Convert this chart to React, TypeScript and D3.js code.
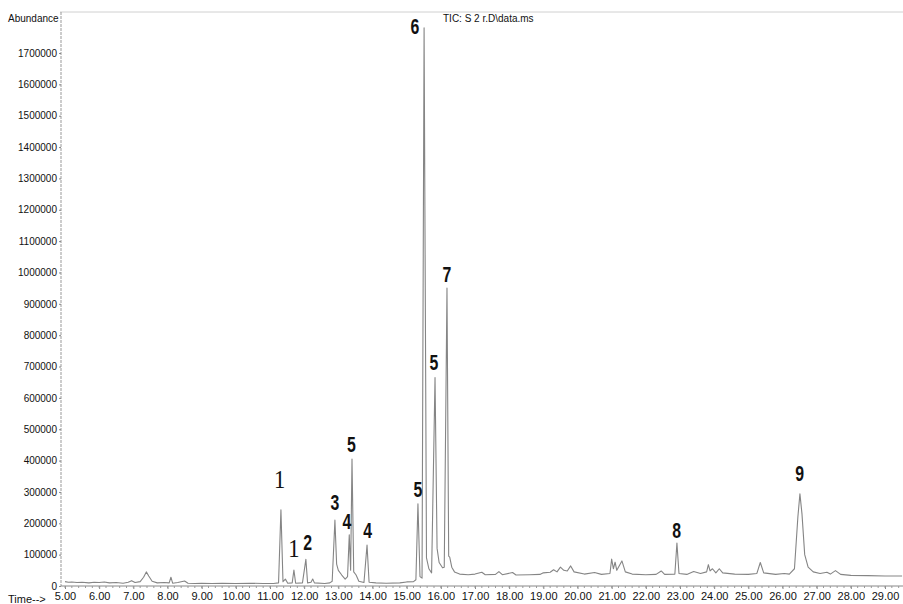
import React, { useRef, useEffect } from "react";
import * as d3 from "d3";

// chromatogram trace: [time (min), abundance]
const trace: [number, number][] = [
  [5.0, 14000], [5.1, 12000], [5.2, 13000], [5.35, 11000], [5.5, 12000], [5.7, 10000],
  [5.85, 12000], [6.0, 11000], [6.15, 13000], [6.3, 10000], [6.5, 11000], [6.7, 9000],
  [6.85, 12000], [6.95, 17000], [7.05, 11000], [7.2, 14000], [7.3, 28000], [7.38, 45000],
  [7.45, 32000], [7.55, 15000], [7.7, 10000], [7.9, 11000], [8.05, 10000], [8.1, 28000],
  [8.15, 9000], [8.3, 11000], [8.5, 16000], [8.6, 9000], [8.8, 8000], [9.0, 9000],
  [9.3, 8000], [9.6, 9000], [10.0, 8000], [10.4, 9000], [10.8, 8000], [11.1, 8000],
  [11.25, 10000], [11.32, 243000], [11.38, 14000], [11.45, 22000], [11.52, 9000],
  [11.65, 10000], [11.7, 51000], [11.75, 9000], [11.95, 10000], [12.05, 85000],
  [12.1, 10000], [12.2, 12000], [12.25, 22000], [12.3, 10000], [12.6, 8000], [12.75, 10000],
  [12.82, 15000], [12.9, 210000], [12.95, 70000], [13.0, 50000], [13.1, 35000],
  [13.2, 22000], [13.27, 30000], [13.32, 163000], [13.36, 50000], [13.4, 405000],
  [13.45, 45000], [13.52, 35000], [13.6, 15000], [13.75, 11000], [13.84, 131000],
  [13.9, 12000], [14.1, 10000], [14.4, 9000], [14.8, 10000], [15.0, 13000], [15.2, 14000],
  [15.27, 20000], [15.33, 262000], [15.39, 30000], [15.45, 25000], [15.51, 1780000],
  [15.58, 90000], [15.65, 55000], [15.73, 42000], [15.83, 665000], [15.89, 120000],
  [15.95, 75000], [16.05, 58000], [16.1, 60000], [16.18, 950000], [16.23, 95000],
  [16.26, 92000], [16.32, 60000], [16.4, 45000], [16.55, 38000], [16.8, 36000],
  [17.0, 38000], [17.2, 44000], [17.3, 36000], [17.6, 37000], [17.7, 46000], [17.8, 36000],
  [18.1, 43000], [18.2, 35000], [18.6, 36000], [18.9, 37000], [19.0, 42000], [19.2, 44000],
  [19.3, 52000], [19.4, 45000], [19.5, 60000], [19.6, 50000], [19.7, 48000], [19.8, 64000],
  [19.9, 45000], [20.2, 38000], [20.5, 43000], [20.7, 37000], [20.95, 40000], [21.0, 86000],
  [21.05, 55000], [21.1, 76000], [21.15, 50000], [21.3, 80000], [21.4, 45000],
  [21.6, 38000], [22.0, 36000], [22.3, 37000], [22.45, 48000], [22.55, 37000],
  [22.85, 38000], [22.91, 137000], [22.97, 40000], [23.2, 37000], [23.4, 46000],
  [23.6, 40000], [23.78, 45000], [23.83, 68000], [23.88, 48000], [23.95, 55000],
  [24.05, 42000], [24.15, 55000], [24.25, 42000], [24.6, 38000], [25.0, 37000],
  [25.25, 40000], [25.35, 75000], [25.45, 42000], [25.8, 37000], [26.05, 40000],
  [26.2, 38000], [26.35, 55000], [26.45, 220000], [26.51, 294000], [26.57, 230000],
  [26.65, 100000], [26.75, 60000], [26.9, 45000], [27.1, 40000], [27.3, 44000],
  [27.4, 38000], [27.55, 49000], [27.7, 37000], [28.0, 34000], [28.5, 33000],
  [29.0, 32000], [29.5, 32000],
];

// peak numbers drawn on the chart
const peakText = ["1", "1", "2", "3", "4", "5", "4", "5", "6", "5", "7", "8", "9"];
const peakTime = [11.28, 11.7, 12.1, 12.9, 13.25, 13.38, 13.86, 15.33, 15.24, 15.8, 16.18, 22.9, 26.5];
const peakLevel = [313000, 92500, 115000, 242000, 182000, 427000, 153000, 284000, 1761000, 689000, 970000, 153000, 335000];
const serifPeaks = [0, 1]; // the two "1" labels look like Times

const yTicks = d3.range(0, 1700001, 100000);
const xTicks = d3.range(5, 29.001, 1);
const xMinor = d3.range(5, 29.5, 0.2);

export default function App() {
  const xRef = useRef<SVGGElement>(null);
  const yRef = useRef<SVGGElement>(null);

  const width = 903;
  const height = 604;
  const x = d3.scaleLinear().domain([5, 29]).range([65, 885]);
  const y = d3.scaleLinear().domain([0, 1700000]).range([586, 53]);

  useEffect(() => {
    document.body.style.margin = "0";

    const xa = d3.select(xRef.current);
    xa.selectAll("*").remove();
    xa.call(
      d3.axisBottom(x).tickValues(xTicks).tickFormat(d3.format(".2f")).tickSize(3).tickPadding(3)
    );
    xa.select(".domain").remove();
    xa.selectAll("line").attr("stroke", "#888");
    xa.selectAll("text")
      .attr("font-family", "Liberation Sans, Arial, sans-serif")
      .attr("font-size", 11)
      .attr("fill", "#111");
    xa.selectAll(".minor")
      .data(xMinor)
      .join("line")
      .attr("class", "minor")
      .attr("x1", (d) => x(d))
      .attr("x2", (d) => x(d))
      .attr("y1", 0)
      .attr("y2", 2)
      .attr("stroke", "#999");

    const ya = d3.select(yRef.current);
    ya.selectAll("*").remove();
    ya.call(d3.axisLeft(y).tickValues(yTicks).tickFormat(d3.format("d")).tickSize(2).tickPadding(2));
    ya.select(".domain").remove();
    ya.selectAll("line").attr("stroke", "#888");
    ya.selectAll("text")
      .attr("font-family", "Liberation Sans, Arial, sans-serif")
      .attr("font-size", 10)
      .attr("fill", "#111");
  }, []);

  const line = d3
    .line<[number, number]>()
    .x((d) => x(d[0]))
    .y((d) => y(d[1]));

  return (
    <svg width={width} height={height} style={{ display: "block", background: "#fff" }}>
      {/* frame */}
      <line x1={60} x2={903} y1={12} y2={12} stroke="#d0d0d0" strokeWidth={1} />
      <line x1={61} x2={61} y1={12} y2={586} stroke="#999" strokeWidth={1} strokeDasharray="3,1" />
      <line x1={61} x2={903} y1={586} y2={586} stroke="#888" strokeWidth={1} />

      <g ref={yRef} transform="translate(61,0)" />
      <g ref={xRef} transform="translate(0,586)" />

      <text x={8} y={22} fontFamily="Liberation Sans, Arial, sans-serif" fontSize={10} fill="#111">
        Abundance
      </text>
      <text x={443} y={22} fontFamily="Liberation Sans, Arial, sans-serif" fontSize={10} fill="#111">
        TIC: S 2 r.D\data.ms
      </text>
      <text x={8} y={603} fontFamily="Liberation Sans, Arial, sans-serif" fontSize={11} fill="#111">
        Time--&gt;
      </text>

      <path d={line(trace) ?? ""} fill="none" stroke="#858585" strokeWidth={1.1} strokeLinejoin="round" />

      {peakText.map((t, i) => {
        const serif = serifPeaks.includes(i);
        return (
          <text
            key={i}
            transform={`translate(${x(peakTime[i])},${y(peakLevel[i])}) scale(${serif ? 0.9 : 0.72},1)`}
            textAnchor="middle"
            fontFamily={serif ? "Liberation Serif, Times New Roman, serif" : "Liberation Sans, Arial, sans-serif"}
            fontWeight={serif ? "normal" : "bold"}
            fontSize={serif ? 25 : 22}
            fill="#111"
          >
            {t}
          </text>
        );
      })}
    </svg>
  );
}
